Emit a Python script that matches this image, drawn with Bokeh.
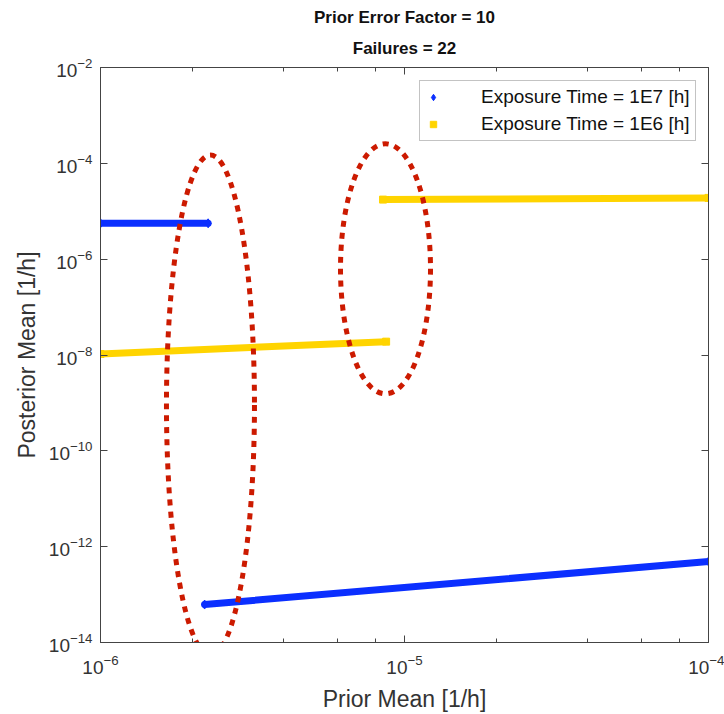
from bokeh.plotting import figure
from bokeh.models import (LogAxis, FixedTicker, LogTicker, Title, Legend, LegendItem)
from bokeh.embed import file_html
from bokeh.resources import INLINE

# ---- data ----
prior_e7_a = [1.0e-6, 2.26e-6]
post_e7_a = [5.6e-6, 5.6e-6]
prior_e7_b = [2.2e-6, 1.0e-4]
post_e7_b = [6.2e-14, 4.9e-13]

prior_e6_a = [1.0e-6, 8.7e-6]
post_e6_a = [1.05e-8, 1.9e-8]
prior_e6_b = [8.5e-6, 1.0e-4]
post_e6_b = [1.75e-5, 1.9e-5]

y_ticks = [1e-14, 1e-12, 1e-10, 1e-8, 1e-6, 1e-4, 1e-2]

# highlight ellipses (center x, center y)
ell_x = [2.3e-6, 8.66e-6]
ell_y = [9.0e-10, 6.3e-7]
ell_w = [88, 90]
ell_h = [500, 250]

BLUE = "#0B2FFF"
YELLOW = "#FFD400"
RED = "#CC1A00"
FONT = "Liberation Sans"
TXT = "#333333"

p = figure(width=724, height=714, x_axis_type="log", y_axis_type="log",
           x_range=(1e-6, 1e-4), y_range=(1e-14, 1e-2),
           output_backend="svg", toolbar_location=None,
           min_border_left=100, min_border_right=16, min_border_bottom=72,
           min_border_top=67)
p.xgrid.visible = False
p.ygrid.visible = False
p.outline_line_color = None
p.background_fill_color = "white"
p.border_fill_color = "white"

# axes styling
def style_axis(ax, labels=True):
    ax.axis_line_color = "#444444"
    ax.major_tick_line_color = "#444444"
    ax.minor_tick_line_color = "#444444"
    ax.major_tick_in = 7
    ax.major_tick_out = 0
    ax.minor_tick_in = 4
    ax.minor_tick_out = 0
    ax.major_label_text_font = FONT
    ax.major_label_text_font_size = "19px"
    ax.major_label_text_color = TXT
    ax.axis_label_text_font = FONT
    ax.axis_label_text_font_size = "23px"
    ax.axis_label_text_font_style = "normal"
    ax.axis_label_text_color = TXT
    if not labels:
        ax.major_label_text_color = None
        ax.major_label_standoff = 0

p.xaxis.ticker = LogTicker(desired_num_ticks=3)
p.yaxis.ticker = FixedTicker(ticks=y_ticks, minor_ticks=[])
p.xaxis.axis_label = "Prior Mean [1/h]"
p.yaxis.axis_label = "Posterior Mean [1/h]"
style_axis(p.xaxis[0])
style_axis(p.yaxis[0])
p.xaxis.major_label_standoff = 12
p.xaxis.axis_label_standoff = 9
p.yaxis.major_label_standoff = 8
p.yaxis.axis_label_standoff = 6

ax_r = LogAxis(ticker=FixedTicker(ticks=y_ticks, minor_ticks=[]))
style_axis(ax_r, labels=False)
p.add_layout(ax_r, "right")
ax_t = LogAxis(ticker=LogTicker(desired_num_ticks=3))
style_axis(ax_t, labels=False)
p.add_layout(ax_t, "above")

# titles
t2 = Title(text="Failures = 22", align="center", text_font=FONT,
           text_font_size="17px", text_font_style="bold", text_color="#111111",
           standoff=19)
p.add_layout(t2, "above")
p.title.text = "Prior Error Factor = 10"
p.title.align = "center"
p.title.text_font = FONT
p.title.text_font_size = "17px"
p.title.text_font_style = "bold"
p.title.text_color = "#111111"
p.title.standoff = 2

# lines
p.line(prior_e7_a, post_e7_a, line_color=BLUE, line_width=7, line_cap="round")
p.line(prior_e7_b, post_e7_b, line_color=BLUE, line_width=7, line_cap="round")
p.line(prior_e6_a, post_e6_a, line_color=YELLOW, line_width=7)
p.line(prior_e6_b, post_e6_b, line_color=YELLOW, line_width=7)
r_blue = p.scatter(prior_e7_a + prior_e7_b, post_e7_a + post_e7_b, marker="diamond",
                   size=9, fill_color=BLUE, line_color=BLUE)
r_yel = p.scatter(prior_e6_a + prior_e6_b, post_e6_a + post_e6_b, marker="square",
                  size=7, fill_color=YELLOW, line_color=YELLOW)

# ellipses
p.ellipse(x=ell_x, y=ell_y, width=ell_w, height=ell_h, width_units="screen",
          height_units="screen", fill_color=None, line_color=RED, line_width=5,
          line_dash="6 6")

legend = Legend(items=[LegendItem(label="Exposure Time = 1E7 [h]", renderers=[r_blue]),
                       LegendItem(label="Exposure Time = 1E6 [h]", renderers=[r_yel])],
                location=(319, 501), label_text_font=FONT, label_text_font_size="19px",
                label_text_color="#111111", border_line_color="#888888",
                glyph_width=16, glyph_height=20, label_height=22, spacing=5,
                label_standoff=40, padding=5, margin=0)
p.add_layout(legend, "center")

open("out.html", "w").write(file_html(p, INLINE))
